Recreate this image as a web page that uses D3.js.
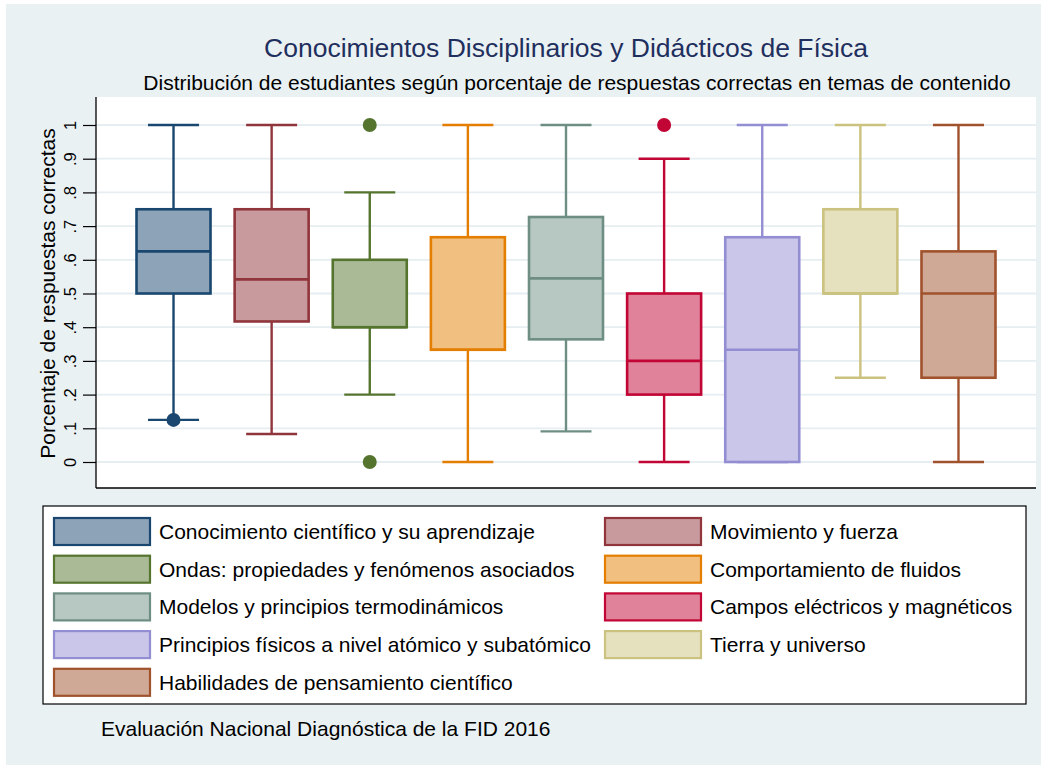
<!DOCTYPE html>
<html>
<head>
<meta charset="utf-8">
<script src="https://cdn.jsdelivr.net/npm/d3@7"></script>
<style>
  body { margin: 0; background: #ffffff; }
  text { font-family: "Liberation Sans", Arial, sans-serif; }
</style>
</head>
<body>
<div id="chart"></div>
<script>
// topics (one box per topic)
var categories = [
  "Conocimiento científico y su aprendizaje",
  "Movimiento y fuerza",
  "Ondas: propiedades y fenómenos asociados",
  "Comportamiento de fluidos",
  "Modelos y principios termodinámicos",
  "Campos eléctricos y magnéticos",
  "Principios físicos a nivel atómico y subatómico",
  "Tierra y universo",
  "Habilidades de pensamiento científico"
];
// box statistics
var whiskerLow  = [0.125, 0.083, 0.2,   0,     0.091, 0,   0,     0.25, 0];
var q1          = [0.5,   0.417, 0.4,   0.333, 0.364, 0.2, 0,     0.5,  0.25];
var medians     = [0.625, 0.542, 0.4,   0.333, 0.545, 0.3, 0.333, 0.5,  0.5];
var q3          = [0.75,  0.75,  0.6,   0.667, 0.727, 0.5, 0.667, 0.75, 0.625];
var whiskerHigh = [1,     1,     0.8,   1,     1,     0.9, 1,     1,    1];
// outside values: [topic index, value]
var outliers = [[0, 0.125], [2, 1], [2, 0], [5, 1]];
var colors = ["#1a476f", "#90353b", "#55752f", "#e37e00", "#6e8e84",
              "#c10534", "#938dd2", "#cac27e", "#a0522d"];
var yTicks = [0, 0.1, 0.2, 0.3, 0.4, 0.5, 0.6, 0.7, 0.8, 0.9, 1];

var W = 1048, H = 767;
var plot = {left: 96, right: 1036, top: 97, bottom: 488};

var svg = d3.select("#chart").append("svg")
    .attr("width", W)
    .attr("height", H);

// graph region
svg.append("rect")
    .attr("x", 6).attr("y", 4)
    .attr("width", 1035).attr("height", 761)
    .attr("fill", "#eaf1f3");

// plot region
svg.append("rect")
    .attr("x", plot.left).attr("y", plot.top)
    .attr("width", plot.right - plot.left)
    .attr("height", plot.bottom - plot.top)
    .attr("fill", "#ffffff");

var yscale = d3.scaleLinear().domain([0, 1]).range([462, 125]);
var xscale = d3.scalePoint()
    .domain(d3.range(categories.length))
    .range([plot.left, plot.right])
    .padding(0.79);

var boxW = 74, capW = 51;

// grid lines
svg.append("g")
    .selectAll("line")
    .data(yTicks).enter()
    .append("line")
    .attr("x1", plot.left).attr("x2", plot.right)
    .attr("y1", function(d) { return yscale(d); })
    .attr("y2", function(d) { return yscale(d); })
    .attr("stroke", "#e6eef1")
    .attr("stroke-width", 1.8);

// y axis with rotated labels
var yAxis = svg.append("g")
    .attr("transform", "translate(" + plot.left + ",0)")
    .call(d3.axisLeft(yscale)
        .tickValues(yTicks)
        .tickSize(13)
        .tickPadding(6)
        .tickFormat(function(d) {
            return d == 0 ? "0" : d == 1 ? "1" : d3.format(".1f")(d).replace(/^0/, "");
        }));
yAxis.select(".domain").remove();
yAxis.selectAll(".tick line").attr("stroke", "#000").attr("stroke-width", 1.2);
yAxis.selectAll(".tick text")
    .attr("x", null).attr("dy", null)
    .attr("transform", "translate(-20,0) rotate(-90)")
    .attr("text-anchor", "middle")
    .attr("font-size", 16.5)
    .attr("fill", "#000");

// axis lines
svg.append("line")
    .attr("x1", plot.left).attr("x2", plot.left)
    .attr("y1", plot.top).attr("y2", plot.bottom)
    .attr("stroke", "#000").attr("stroke-width", 1.3);
svg.append("line")
    .attr("x1", plot.left).attr("x2", plot.right)
    .attr("y1", plot.bottom).attr("y2", plot.bottom)
    .attr("stroke", "#000").attr("stroke-width", 1.3);

function fillOf(c) {
    return d3.interpolateRgb(c, "#ffffff")(0.5);
}

var boxes = svg.append("g")
    .selectAll("g")
    .data(categories).enter()
    .append("g");

// whiskers
boxes.append("line")
    .attr("x1", function(d, i) { return xscale(i); })
    .attr("x2", function(d, i) { return xscale(i); })
    .attr("y1", function(d, i) { return yscale(whiskerHigh[i]); })
    .attr("y2", function(d, i) { return yscale(whiskerLow[i]); })
    .attr("stroke", function(d, i) { return colors[i]; })
    .attr("stroke-width", 2.4);
// caps
[whiskerHigh, whiskerLow].forEach(function(arr) {
    boxes.append("line")
        .attr("x1", function(d, i) { return xscale(i) - capW / 2; })
        .attr("x2", function(d, i) { return xscale(i) + capW / 2; })
        .attr("y1", function(d, i) { return yscale(arr[i]); })
        .attr("y2", function(d, i) { return yscale(arr[i]); })
        .attr("stroke", function(d, i) { return colors[i]; })
        .attr("stroke-width", 2.4);
});
// box
boxes.append("rect")
    .attr("x", function(d, i) { return xscale(i) - boxW / 2; })
    .attr("y", function(d, i) { return yscale(q3[i]); })
    .attr("width", boxW)
    .attr("height", function(d, i) { return yscale(q1[i]) - yscale(q3[i]); })
    .attr("fill", function(d, i) { return fillOf(colors[i]); })
    .attr("stroke", function(d, i) { return colors[i]; })
    .attr("stroke-width", 2.6);
// median
boxes.append("line")
    .attr("x1", function(d, i) { return xscale(i) - boxW / 2; })
    .attr("x2", function(d, i) { return xscale(i) + boxW / 2; })
    .attr("y1", function(d, i) { return yscale(medians[i]); })
    .attr("y2", function(d, i) { return yscale(medians[i]); })
    .attr("stroke", function(d, i) { return colors[i]; })
    .attr("stroke-width", 2.6);

// outside values
svg.append("g")
    .selectAll("circle")
    .data(outliers).enter()
    .append("circle")
    .attr("cx", function(d) { return xscale(d[0]); })
    .attr("cy", function(d) { return yscale(d[1]); })
    .attr("r", 7)
    .attr("fill", function(d) { return colors[d[0]]; });

// y axis title
svg.append("text")
    .attr("transform", "translate(55," + yscale(0.5) + ") rotate(-90)")
    .attr("text-anchor", "middle")
    .attr("font-size", 21)
    .attr("fill", "#000")
    .text("Porcentaje de respuestas correctas");

// titles
svg.append("text")
    .attr("x", 566).attr("y", 57)
    .attr("text-anchor", "middle")
    .attr("font-size", 26.5)
    .attr("fill", "#1f2f5e")
    .text("Conocimientos Disciplinarios y Didácticos de Física");
svg.append("text")
    .attr("x", 577).attr("y", 90)
    .attr("text-anchor", "middle")
    .attr("font-size", 21)
    .attr("fill", "#000")
    .text("Distribución de estudiantes según porcentaje de respuestas correctas en temas de contenido");

// legend
var legend = svg.append("g");
legend.append("rect")
    .attr("x", 43).attr("y", 506)
    .attr("width", 983).attr("height", 198)
    .attr("fill", "#ffffff")
    .attr("stroke", "#000")
    .attr("stroke-width", 1.2);

var colX = [53, 604], rowY0 = 517, rowStep = 37.7;
var items = legend.selectAll(".item")
    .data(categories).enter()
    .append("g")
    .attr("class", "item")
    .attr("transform", function(d, i) {
        return "translate(" + colX[i % 2] + "," + (rowY0 + Math.floor(i / 2) * rowStep) + ")";
    });
items.append("rect")
    .attr("x", 1).attr("y", 1)
    .attr("width", 96).attr("height", 27)
    .attr("fill", function(d, i) { return fillOf(colors[i]); })
    .attr("stroke", function(d, i) { return colors[i]; })
    .attr("stroke-width", 2.2);
items.append("text")
    .attr("x", 106).attr("y", 22)
    .attr("font-size", 21)
    .attr("fill", "#000")
    .text(function(d) { return d; });

// note
svg.append("text")
    .attr("x", 101).attr("y", 736)
    .attr("font-size", 21)
    .attr("fill", "#000")
    .text("Evaluación Nacional Diagnóstica de la FID 2016");
</script>
</body>
</html>
